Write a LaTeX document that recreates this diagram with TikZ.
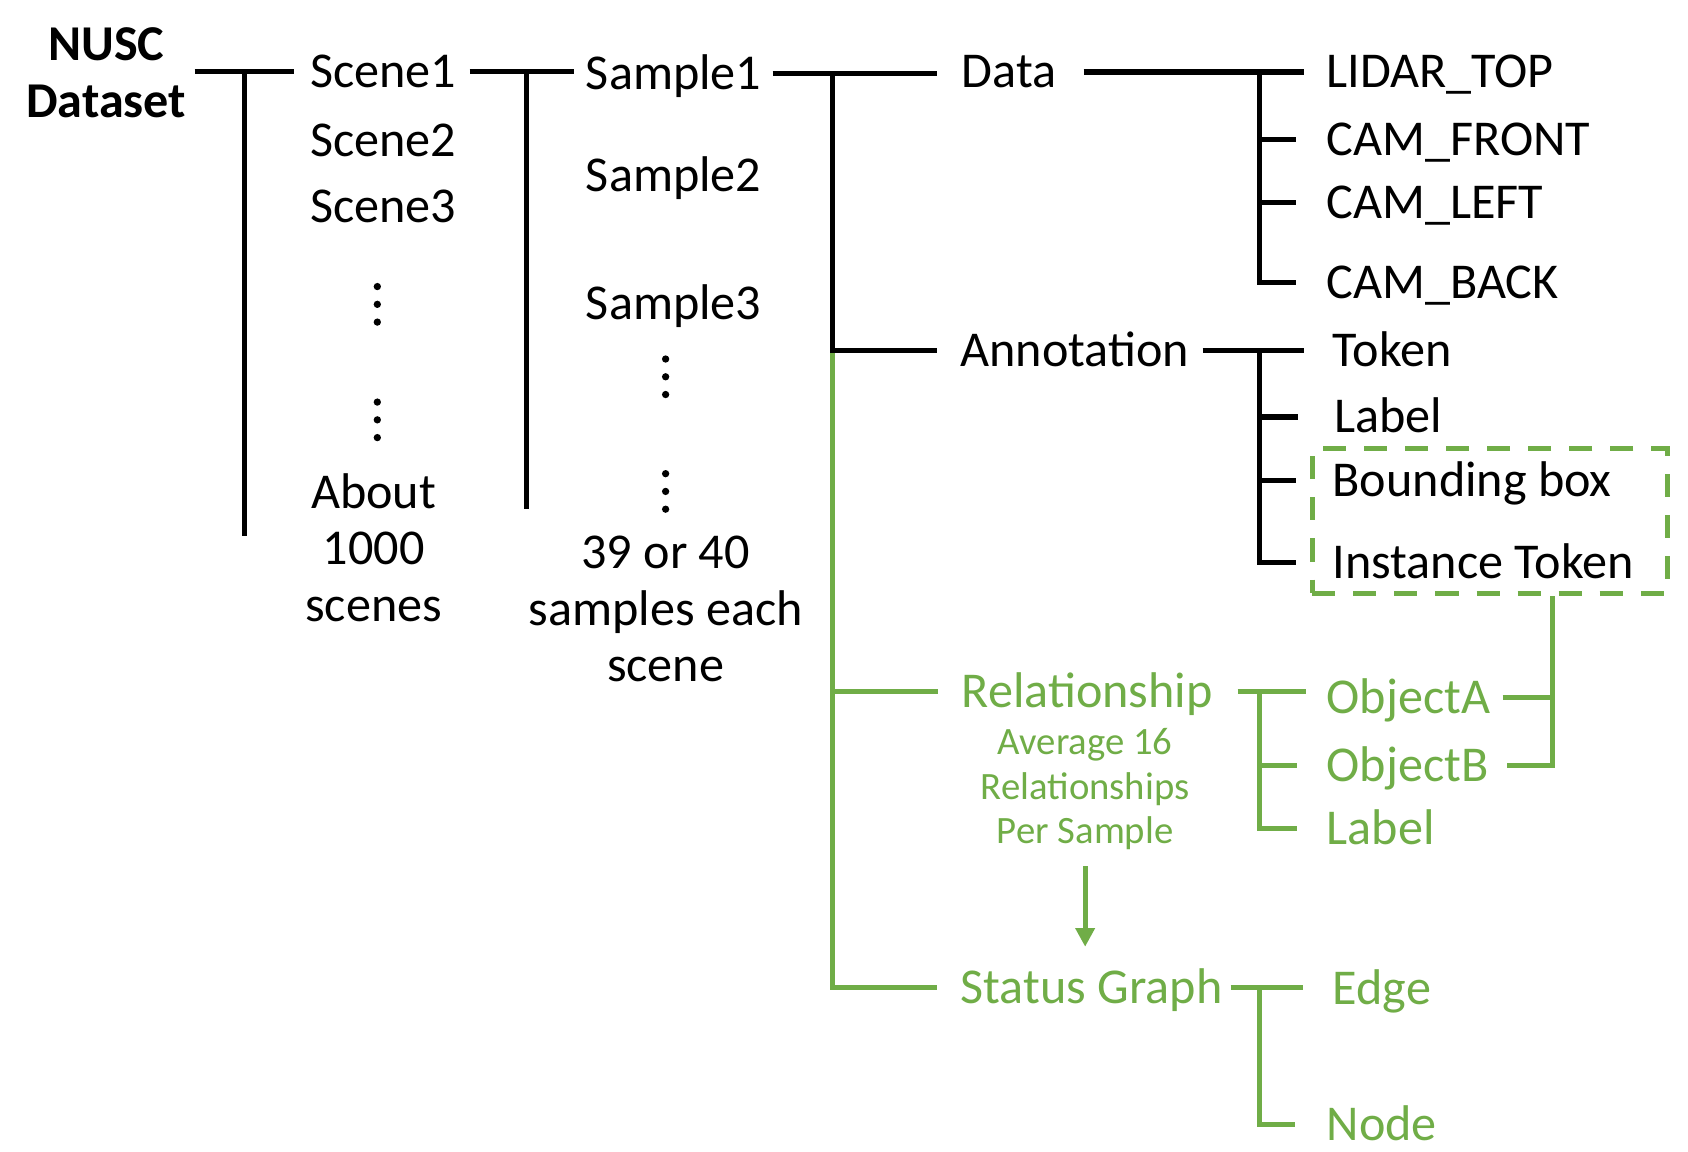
\documentclass[tikz,border=0pt]{standalone}
\usepackage{fontspec}
\setmainfont{Carlito}
\usetikzlibrary{arrows.meta}
\definecolor{relGreen}{HTML}{70AD47}
\tikzset{item/.style={font=\fontsize{28.5}{32.1}\selectfont, inner sep=0pt, anchor=base west, text height=18pt, text depth=0pt}}
\tikzset{gitem/.style={item, text=relGreen}}
\tikzset{block/.style={font=\fontsize{28.5}{32.1}\selectfont, inner sep=0pt, align=center}}
\tikzset{note/.style={font=\fontsize{22}{25.3}\selectfont, inner sep=0pt, align=center, text=relGreen}}
\tikzset{tree/.style={line width=3pt, black}}
\tikzset{gtree/.style={line width=2.8pt, relGreen}}
\tikzset{hint/.style={draw=relGreen, line width=2.8pt, dash pattern=on 0.46cm off 0.36cm}}

\begin{document}
\begin{tikzpicture}[x=0.0215cm, y=-0.0215cm]
\useasboundingbox (0,0) rectangle (1568,1070);
% dataset and scenes
\node[block, font=\bfseries\fontsize{28.5}{32.2}\selectfont] at (98.7,67.3) (nusc) {NUSC\\Dataset};
\node[item] at (288,81) (sc_1) {Scene1};
\node[item] at (288,145) (sc_2) {Scene2};
\node[item] at (288,207) (sc_3) {Scene3};
\node[block] at (347,508.8) (sc_n) {About\\1000\\scenes};
% samples
\node[item] at (544,83) (sa_1) {Sample1};
\node[item] at (544,178) (sa_2) {Sample2};
\node[item] at (544,296.5) (sa_3) {Sample3};
\node[block] at (618.3,566) (sa_n) {39 or 40\\samples each\\scene};
% vertical dots
\foreach \x/\y in {350.5/282.7, 350.5/390, 618.3/350, 618.3/456.5}
  \foreach \d in {-16.5,0,16.5}
    \fill (\x,\y+\d) circle (3.4);
% content of a sample
\node[item] at (893,81.5) (da) {Data};
\node[item] at (892,340) (an) {Annotation};
\node[gitem] at (893,657) (rel) {Relationship};
\node[note] at (1008,733.2) (rel_n) {Average 16\\Relationships\\Per Sample};
\node[gitem] at (892,932) (sg) {Status Graph};
% sensors
\node[item] at (1232,81.5) (li) {LIDAR\_TOP};
\node[item] at (1232,144) (cf) {CAM\_FRONT};
\node[item] at (1232,203) (cl) {CAM\_LEFT};
\node[item] at (1232,277) (cb) {CAM\_BACK};
% annotation fields
\node[item] at (1237.6,340) (tk) {Token};
\node[item] at (1239,402) (lb) {Label};
\node[item] at (1237.6,461) (bb) {Bounding box};
\node[item] at (1237.6,537) (it) {Instance Token};
\node[hint, minimum width=7.095cm, minimum height=2.881cm] at (1384,484) (box) {};
% relationship and graph fields
\node[gitem] at (1232,662.7) (ob_a) {ObjectA};
\node[gitem] at (1232,725.8) (ob_b) {ObjectB};
\node[gitem] at (1232,784.7) (rl) {Label};
\node[gitem] at (1237.6,933.5) (ed) {Edge};
\node[gitem] at (1232,1059) (nd) {Node};

\coordinate (a_end) at (227,497.5);
\coordinate (b_end) at (489,473);
\coordinate (c_bar) at (773,0);
\coordinate (d_bar) at (1170,0);
\coordinate (o_bar) at (1442,0);

\draw[tree, shorten <=0.16cm, shorten >=0.32cm] (nusc.east |- sc_1.west) -- (sc_1.west);
\draw[tree] (a_end |- sc_1.west) -- (a_end);
\draw[tree, shorten <=0.26cm, shorten >=0.24cm] (sc_1.east) -- (sc_1.east -| sa_1.west);
\draw[tree] (b_end |- sc_1.east) -- (b_end);
\draw[tree, shorten <=0.22cm, shorten >=0.49cm] (sa_1.east) -- (sa_1.east -| da.west);
\draw[gtree, shorten >=0.47cm] (c_bar |- an.west) -- (c_bar |- sg.west) -- (sg.west);
\draw[gtree, shorten >=0.47cm] (c_bar |- rel.west) -- (rel.west);
\draw[tree, shorten >=0.47cm] (c_bar |- sa_1.east) -- (c_bar |- an.west) -- (an.west);
% data
\draw[tree, shorten <=0.54cm, shorten >=0.45cm] (da.east) -- (da.east -| li.west);
\draw[tree, shorten >=0.6cm] (d_bar |- da.east) -- (d_bar |- cb.west) -- (cb.west);
\foreach \n in {cf,cl}
  \draw[tree, shorten >=0.6cm] (d_bar |- \n.west) -- (\n.west);
% annotation
\draw[tree, shorten <=0.26cm, shorten >=0.57cm] (an.east) -- (an.east -| tk.west);
\draw[tree, shorten >=0.72cm] (d_bar |- an.east) -- (d_bar |- it.west) -- (it.west);
\foreach \n in {lb,bb}
  \draw[tree, shorten >=0.72cm] (d_bar |- \n.west) -- (\n.west);
% relationship
\draw[gtree, shorten <=0.49cm, shorten >=0.41cm] (rel.east) -- (rel.east -| ob_a.west);
\draw[gtree, shorten >=0.58cm] (d_bar |- rel.east) -- (d_bar |- rl.west) -- (rl.west);
\draw[gtree, shorten >=0.58cm] (d_bar |- ob_b.west) -- (ob_b.west);
\draw[gtree, shorten <=0.24cm] (ob_a.east) -- (o_bar |- ob_a.east);
\draw[gtree, shorten <=0.37cm] (ob_b.east) -- (o_bar |- ob_b.east) -- (o_bar |- box.south);
\draw[gtree, line width=3pt, -{Triangle[length=0.37cm, width=0.37cm]}, shorten <=0.32cm, shorten >=0.49cm] (rel_n.south) -- (rel_n.south |- sg.north);
% status graph
\draw[gtree, shorten <=0.16cm, shorten >=0.59cm] (sg.east) -- (sg.east -| ed.west);
\draw[gtree, shorten >=0.62cm] (d_bar |- sg.east) -- (d_bar |- nd.west) -- (nd.west);
\end{tikzpicture}
\end{document}
